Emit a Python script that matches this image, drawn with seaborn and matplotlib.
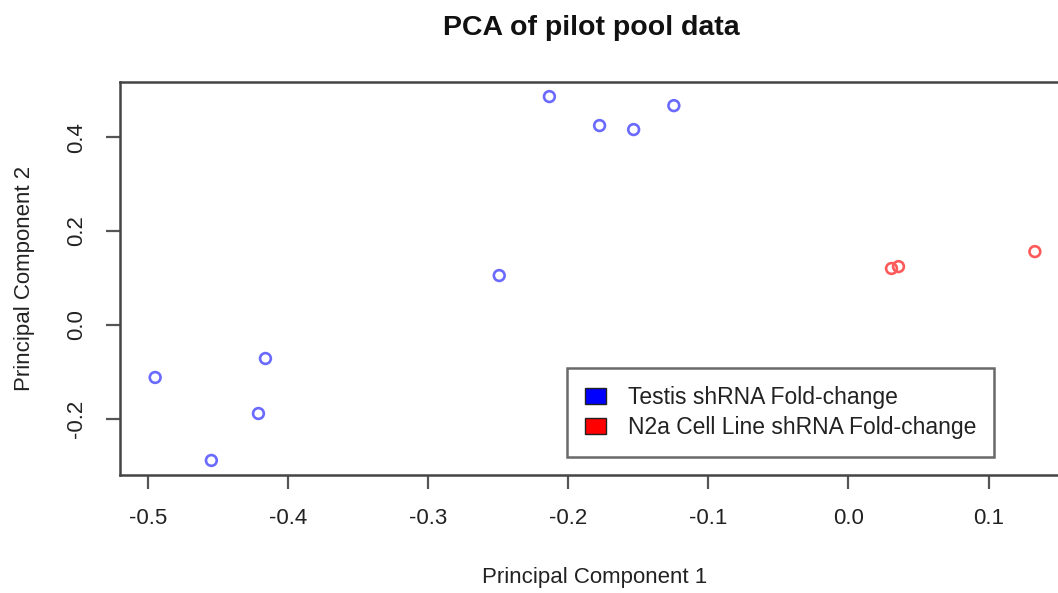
import matplotlib
matplotlib.use("Agg")
import matplotlib.pyplot as plt
from matplotlib.patches import Patch
import seaborn as sns
import pandas as pd

# PCA scores for each sample
testis_pc1 = [-0.2134, -0.1776, -0.1533, -0.1246, -0.2492, -0.4160, -0.4947, -0.4210, -0.4546]
testis_pc2 = [0.4863, 0.4245, 0.4160, 0.4670, 0.1050, -0.0718, -0.1122, -0.1890, -0.2890]
n2a_pc1 = [0.1330, 0.0307, 0.0357]
n2a_pc2 = [0.1560, 0.1200, 0.1240]

group_names = ["Testis shRNA Fold-change", "N2a Cell Line shRNA Fold-change"]
x_ticks = [-0.5, -0.4, -0.3, -0.2, -0.1, 0.0, 0.1]
y_ticks = [-0.2, 0.0, 0.2, 0.4]

df = pd.DataFrame({
    "pc1": testis_pc1 + n2a_pc1,
    "pc2": testis_pc2 + n2a_pc2,
    "group": [group_names[0]] * len(testis_pc1) + [group_names[1]] * len(n2a_pc1),
})

sns.set_style("white")
plt.rcParams["font.family"] = ["Liberation Sans", "DejaVu Sans"]
plt.rcParams["axes.unicode_minus"] = False

fig = plt.figure(figsize=(10.58, 5.93), dpi=100)
ax = fig.add_axes([0.1134, 0.199, 0.898, 0.6627])

palette = {group_names[0]: "#6a6aff", group_names[1]: "#ff5a5a"}
for g in group_names:
    sub = df[df["group"] == g]
    sns.scatterplot(data=sub, x="pc1", y="pc2", ax=ax, marker="o", s=60,
                    facecolor="none", edgecolor=palette[g], linewidth=1.9,
                    legend=False)

# base-graphics style 4% padding around the data
xr = df["pc1"].max() - df["pc1"].min()
yr = df["pc2"].max() - df["pc2"].min()
ax.set_xlim(df["pc1"].min() - 0.04 * xr, df["pc1"].max() + 0.04 * xr)
ax.set_ylim(df["pc2"].min() - 0.04 * yr, df["pc2"].max() + 0.04 * yr)

ax.set_xticks(x_ticks)
ax.set_xticklabels([f"{v:.1f}" for v in x_ticks])
ax.set_yticks(y_ticks)
ax.set_yticklabels([f"{v:.1f}" for v in y_ticks], rotation=90, va="center")
ax.tick_params(axis="both", direction="out", length=10, width=1.6,
               bottom=True, left=True, color="#555555", labelsize=16,
               labelcolor="#222222", pad=14)

for sp in ax.spines.values():
    sp.set_color("#444444")
    sp.set_linewidth(1.8)

ax.set_xlabel("Principal Component 1", fontsize=16, color="#222222", labelpad=27)
ax.set_ylabel("Principal Component 2", fontsize=16, color="#222222", labelpad=22)
fig.suptitle("PCA of pilot pool data", x=0.5586, y=0.974, fontsize=20.5,
             fontweight="bold", color="#111111")

handles = [Patch(facecolor="blue", edgecolor="#222222", label=group_names[0]),
           Patch(facecolor="red", edgecolor="#222222", label=group_names[1])]
leg = ax.legend(handles=handles, loc="lower left", bbox_to_anchor=(0.4705, 0.0458),
                borderaxespad=0, fontsize=16.5, frameon=True, fancybox=False,
                handlelength=0.9, handleheight=0.68, handletextpad=0.95,
                borderpad=0.8, labelspacing=0.28, labelcolor="#222222")
leg.get_frame().set_edgecolor("#444444")
leg.get_frame().set_linewidth(1.8)

fig.savefig("out.png", dpi=100)
